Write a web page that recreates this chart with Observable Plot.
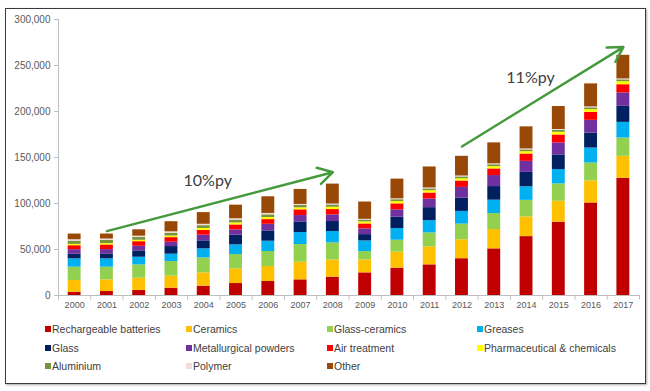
<!DOCTYPE html>
<html>
<head>
<meta charset="utf-8">
<script src="https://cdn.jsdelivr.net/npm/d3@7"></script>
<script src="https://cdn.jsdelivr.net/npm/@observablehq/plot@0.6"></script>
<style>
  body { margin: 0; background: #fff; font-family: "Liberation Sans", Arial, sans-serif; }
  #wrap { position: relative; width: 650px; height: 391px; overflow: hidden; background: #fff; }
  #box { position: absolute; left: 5px; top: 8px; width: 641px; height: 376px; box-sizing: border-box;
         border: 1.5px solid #3a3a3a; box-shadow: 1px 1px 2px rgba(0,0,0,0.35); }
  #chart { position: absolute; left: 0; top: 0; }
  #legend { position: absolute; left: 45px; top: 320px; display: grid;
            grid-template-columns: 141px 141px 150px 160px; grid-auto-rows: 18.5px; }
  .li { font-size: 10.5px; color: #404040; white-space: nowrap; display: flex; align-items: center; height: 18px; }
  .sw { width: 6px; height: 6px; margin-right: 1px; flex: none; }
</style>
</head>
<body>
<div id="wrap">
  <div id="box"></div>
  <div id="chart"></div>
  <div id="legend"></div>
</div>
<script>
const years = ["2000","2001","2002","2003","2004","2005","2006","2007","2008","2009","2010","2011","2012","2013","2014","2015","2016","2017"];

const seriesNames = ["Rechargeable batteries","Ceramics","Glass-ceramics","Greases","Glass","Metallurgical powders","Air treatment","Pharmaceutical & chemicals","Aluminium","Polymer","Other"];
const seriesColors = ["#C00000","#FFC000","#92D050","#00B0F0","#002060","#7030A0","#FF0000","#FFFF00","#77933C","#F2DCDB","#984807"];

const batteries     = [3600, 4300, 5400, 8000, 10100, 13000, 15200, 17000, 19900, 24600, 29700, 33300, 40000, 50700, 64000, 79700, 100600, 127400];
const ceramics      = [12700, 12700, 13400, 13000, 14500, 15900, 16300, 19200, 18800, 14100, 17400, 19500, 20600, 21000, 21400, 22800, 23900, 23900];
const glassCeramics = [14500, 13800, 14500, 15900, 16300, 15600, 16300, 19200, 18500, 9000, 13000, 15200, 17000, 17400, 18000, 18800, 19500, 19900];
const greases       = [9000, 9000, 8300, 8000, 9800, 10500, 11200, 13000, 12300, 11600, 12700, 13400, 13800, 14500, 14800, 15600, 16300, 17000];
const glass         = [5000, 5400, 6900, 8300, 8700, 10500, 11200, 11600, 10900, 6900, 12300, 14100, 14500, 14800, 15600, 15900, 16300, 17400];
const metallurgical = [5000, 4700, 5000, 4700, 6200, 5800, 7200, 6900, 7200, 6200, 8000, 9400, 11600, 12000, 12000, 13000, 13800, 14500];
const airTreatment  = [4300, 5000, 5000, 5000, 5100, 5400, 5100, 6200, 5800, 5400, 6500, 6500, 6900, 7200, 8000, 8700, 8700, 9000];
const pharma        = [1500, 1500, 1500, 1800, 2200, 2200, 2200, 2200, 2500, 2200, 2500, 2500, 2500, 2500, 2500, 2900, 2900, 3300];
const aluminium     = [3500, 3500, 3000, 3000, 3000, 3000, 3000, 2500, 2500, 2000, 2000, 2000, 2000, 2000, 2000, 2000, 2000, 2000];
const polymer       = [1500, 1500, 1500, 1500, 1500, 1500, 1500, 1200, 1000, 800, 1000, 1000, 1000, 1000, 1000, 1000, 1000, 1000];
const other         = [6200, 5400, 6900, 11000, 12700, 14800, 18100, 16300, 21700, 18800, 21400, 22800, 21400, 22800, 24000, 25000, 25000, 25700];

const yTicks = [0, 50000, 100000, 150000, 200000, 250000, 300000];

// trend annotations (data coordinates)
const trendStartYear = ["2001", "2012"];
const trendStartValue = [70000, 162000];
const trendEndYear = ["2008", "2017"];
const trendEndValue = [134000, 270000];
const trendLabels = ["10%py", "11%py"];
const trendLabelYear = ["2004", "2014"];
const trendLabelValue = [125000, 237000];

const seriesValues = [batteries, ceramics, glassCeramics, greases, glass, metallurgical, airTreatment, pharma, aluminium, polymer, other];
const data = [];
seriesNames.forEach((s, i) => years.forEach((yr, j) => data.push({year: yr, series: s, value: seriesValues[i][j]})));
const trendIdx = trendLabels.map((_, i) => i);

const W = 650, ML = 58, MR = 11;
const step = (W - ML - MR) / years.length;
const axisGray = "#bfbfbf";

const chart = Plot.plot({
  width: W, height: 318,
  marginLeft: ML, marginRight: MR, marginTop: 19, marginBottom: 23,
  style: {fontFamily: "'Liberation Sans', Arial, sans-serif", color: "#595959", background: "transparent", overflow: "visible"},
  x: {domain: years, paddingInner: 0.6, paddingOuter: 0.3, label: null, round: false},
  y: {domain: [0, 300000], label: null},
  color: {domain: seriesNames, range: seriesColors},
  marks: [
    Plot.ruleX([years[0]], {y1: 0, y2: 300000, dx: -step / 2, stroke: axisGray}),
    Plot.ruleX(years, {x: d => d, y1: 0, y2: -5000, dx: -step / 2, stroke: axisGray}),
    Plot.ruleX([years[years.length - 1]], {y1: 0, y2: -5000, dx: step / 2, stroke: axisGray}),
    Plot.ruleY([0], {stroke: axisGray}),
    Plot.barY(data, Plot.stackY({x: "year", y: "value", fill: "series"})),
    Plot.axisX({tickSize: 0, tickPadding: 6, fontSize: 9, fill: "#595959", label: null}),
    Plot.axisY({ticks: yTicks, tickFormat: d3.format(","), tickSize: 4, tickPadding: 4, fontSize: 10,
                stroke: axisGray, fill: "#595959", label: null}),
    Plot.arrow(trendIdx, {
      x1: i => trendStartYear[i], y1: i => trendStartValue[i],
      x2: i => trendEndYear[i], y2: i => trendEndValue[i],
      stroke: "#449a3c", strokeWidth: 2.5, headLength: 10, bend: 0
    }),
    Plot.text(trendIdx, {
      x: i => trendLabelYear[i], y: i => trendLabelValue[i], text: i => trendLabels[i],
      dx: 4, fontSize: 16, fontFamily: "Lato, 'Open Sans', sans-serif", fill: "#404040"
    })
  ]
});
document.getElementById("chart").appendChild(chart);

const legend = document.getElementById("legend");
seriesNames.forEach((name, i) => {
  const item = document.createElement("div");
  item.className = "li";
  const sw = document.createElement("span");
  sw.className = "sw";
  sw.style.background = seriesColors[i];
  const tx = document.createElement("span");
  tx.textContent = name;
  item.appendChild(sw);
  item.appendChild(tx);
  legend.appendChild(item);
});
</script>
</body>
</html>
